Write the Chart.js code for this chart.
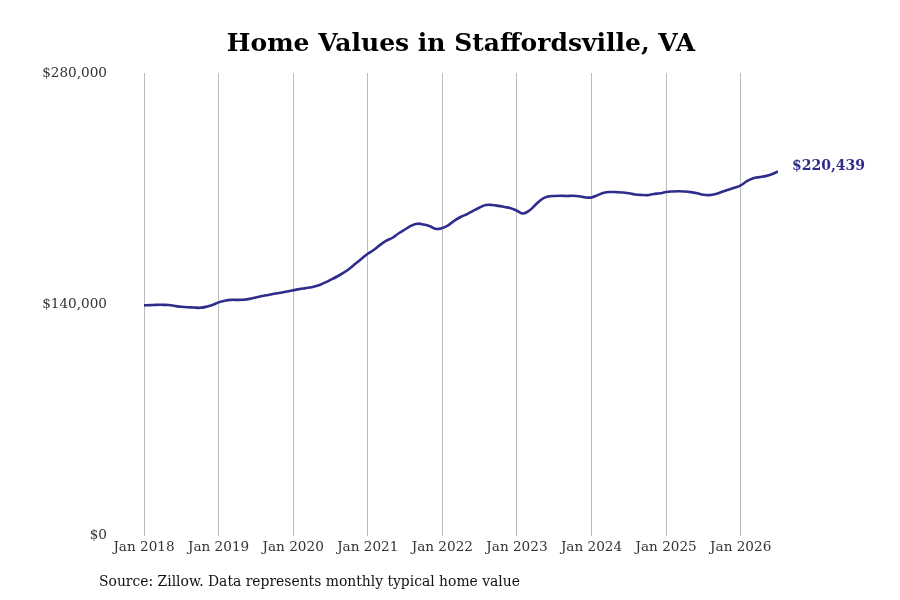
<!DOCTYPE html>
<html>
<head>
<meta charset="utf-8">
<script src="https://cdn.jsdelivr.net/npm/chart.js@4"></script>
<style>
html,body{margin:0;padding:0;background:#fff;}
#wrap{width:900px;height:600px;position:relative;}
</style>
</head>
<body>
<div id="wrap"><canvas id="c" width="900" height="600"></canvas></div>
<script>
const titleText = "Home Values in Staffordsville, VA";
const sourceText = "Source: Zillow. Data represents monthly typical home value";
const tickMonths = [0, 12, 24, 36, 48, 60, 72, 84, 96];
const tickLabels = ["Jan 2018","Jan 2019","Jan 2020","Jan 2021","Jan 2022","Jan 2023","Jan 2024","Jan 2025","Jan 2026"];
const yTicks = [0, 140000, 280000];
const yTickLabels = ["$0", "$140,000", "$280,000"];
// Monthly typical home value, Jan 2018 .. Jul 2026
const values = [
  139400,139500,139700,139700,139600,139000,138500,138200,138100,137900,138500,139600,
  141200,142200,142700,142700,142800,143300,144200,145000,145700,146400,147000,147800,
  148500,149200,149800,150400,151400,153000,154800,156700,158900,161400,164500,167600,
  170600,173000,176000,178500,180300,183000,185300,187600,188800,188300,187300,185600,
  186200,188000,190800,193000,194600,196700,198600,200100,200100,199600,198900,198200,
  196600,195000,196800,200300,203600,205200,205600,205700,205600,205700,205400,204700,
  204700,206100,207600,208000,207900,207700,207200,206500,206200,206100,206800,207200,
  208000,208300,208400,208300,207900,207200,206300,206100,206800,208100,209300,210500,
  212000,214500,216300,217000,217600,218700,220439
];
const endLabel = "$220,439";
const lineColor = "#2e2d8b";

const points = values.map((v, i) => ({x: i, y: v}));

const textPlugin = {
  id: 'textPlugin',
  afterDraw(chart) {
    const ctx = chart.ctx;
    const area = chart.chartArea;
    ctx.save();
    ctx.fillStyle = '#000';
    ctx.font = 'bold 25px "DejaVu Serif"';
    ctx.textAlign = 'center';
    ctx.textBaseline = 'middle';
    ctx.fillText(titleText, (area.left + area.right) / 2, 44);
    ctx.font = '13.9px "DejaVu Serif"';
    ctx.textAlign = 'left';
    ctx.fillStyle = '#111';
    ctx.fillText(sourceText, 99, 582);
    const meta = chart.getDatasetMeta(0);
    const last = meta.data[meta.data.length - 1];
    ctx.font = 'bold 14px "DejaVu Serif"';
    ctx.fillStyle = lineColor;
    ctx.fillText(endLabel, last.x + 14, last.y - 5);
    ctx.restore();
  }
};

new Chart(document.getElementById('c'), {
  type: 'line',
  data: {
    datasets: [{
      data: points,
      borderColor: lineColor,
      borderWidth: 2.6,
      pointRadius: 0,
      tension: 0.4,
      fill: false
    }]
  },
  options: {
    responsive: false,
    animation: false,
    layout: { padding: { top: 73, right: 122, bottom: 40, left: 0 } },
    plugins: { legend: { display: false }, title: { display: false }, tooltip: { enabled: false } },
    scales: {
      x: {
        type: 'linear',
        min: 0,
        max: values.length - 1,
        afterBuildTicks(scale) { scale.ticks = tickMonths.map(v => ({value: v})); },
        ticks: {
          callback(v) { const i = tickMonths.indexOf(v); return i >= 0 ? tickLabels[i] : ''; },
          font: { family: 'DejaVu Serif', size: 13.6 },
          color: '#333',
          padding: 4,
          maxRotation: 0
        },
        grid: { display: true, color: '#bbbbbb', lineWidth: 1, drawTicks: false },
        border: { display: false }
      },
      y: {
        min: 0,
        max: 280000,
        afterBuildTicks(scale) { scale.ticks = yTicks.map(v => ({value: v})); },
        afterFit(scale) { scale.width = 144; },
        ticks: {
          callback(v) { const i = yTicks.indexOf(v); return i >= 0 ? yTickLabels[i] : ''; },
          font: { family: 'DejaVu Serif', size: 13.6 },
          color: '#333',
          padding: 37
        },
        grid: { display: false, drawTicks: false },
        border: { display: false }
      }
    }
  },
  plugins: [textPlugin]
});
</script>
</body>
</html>
